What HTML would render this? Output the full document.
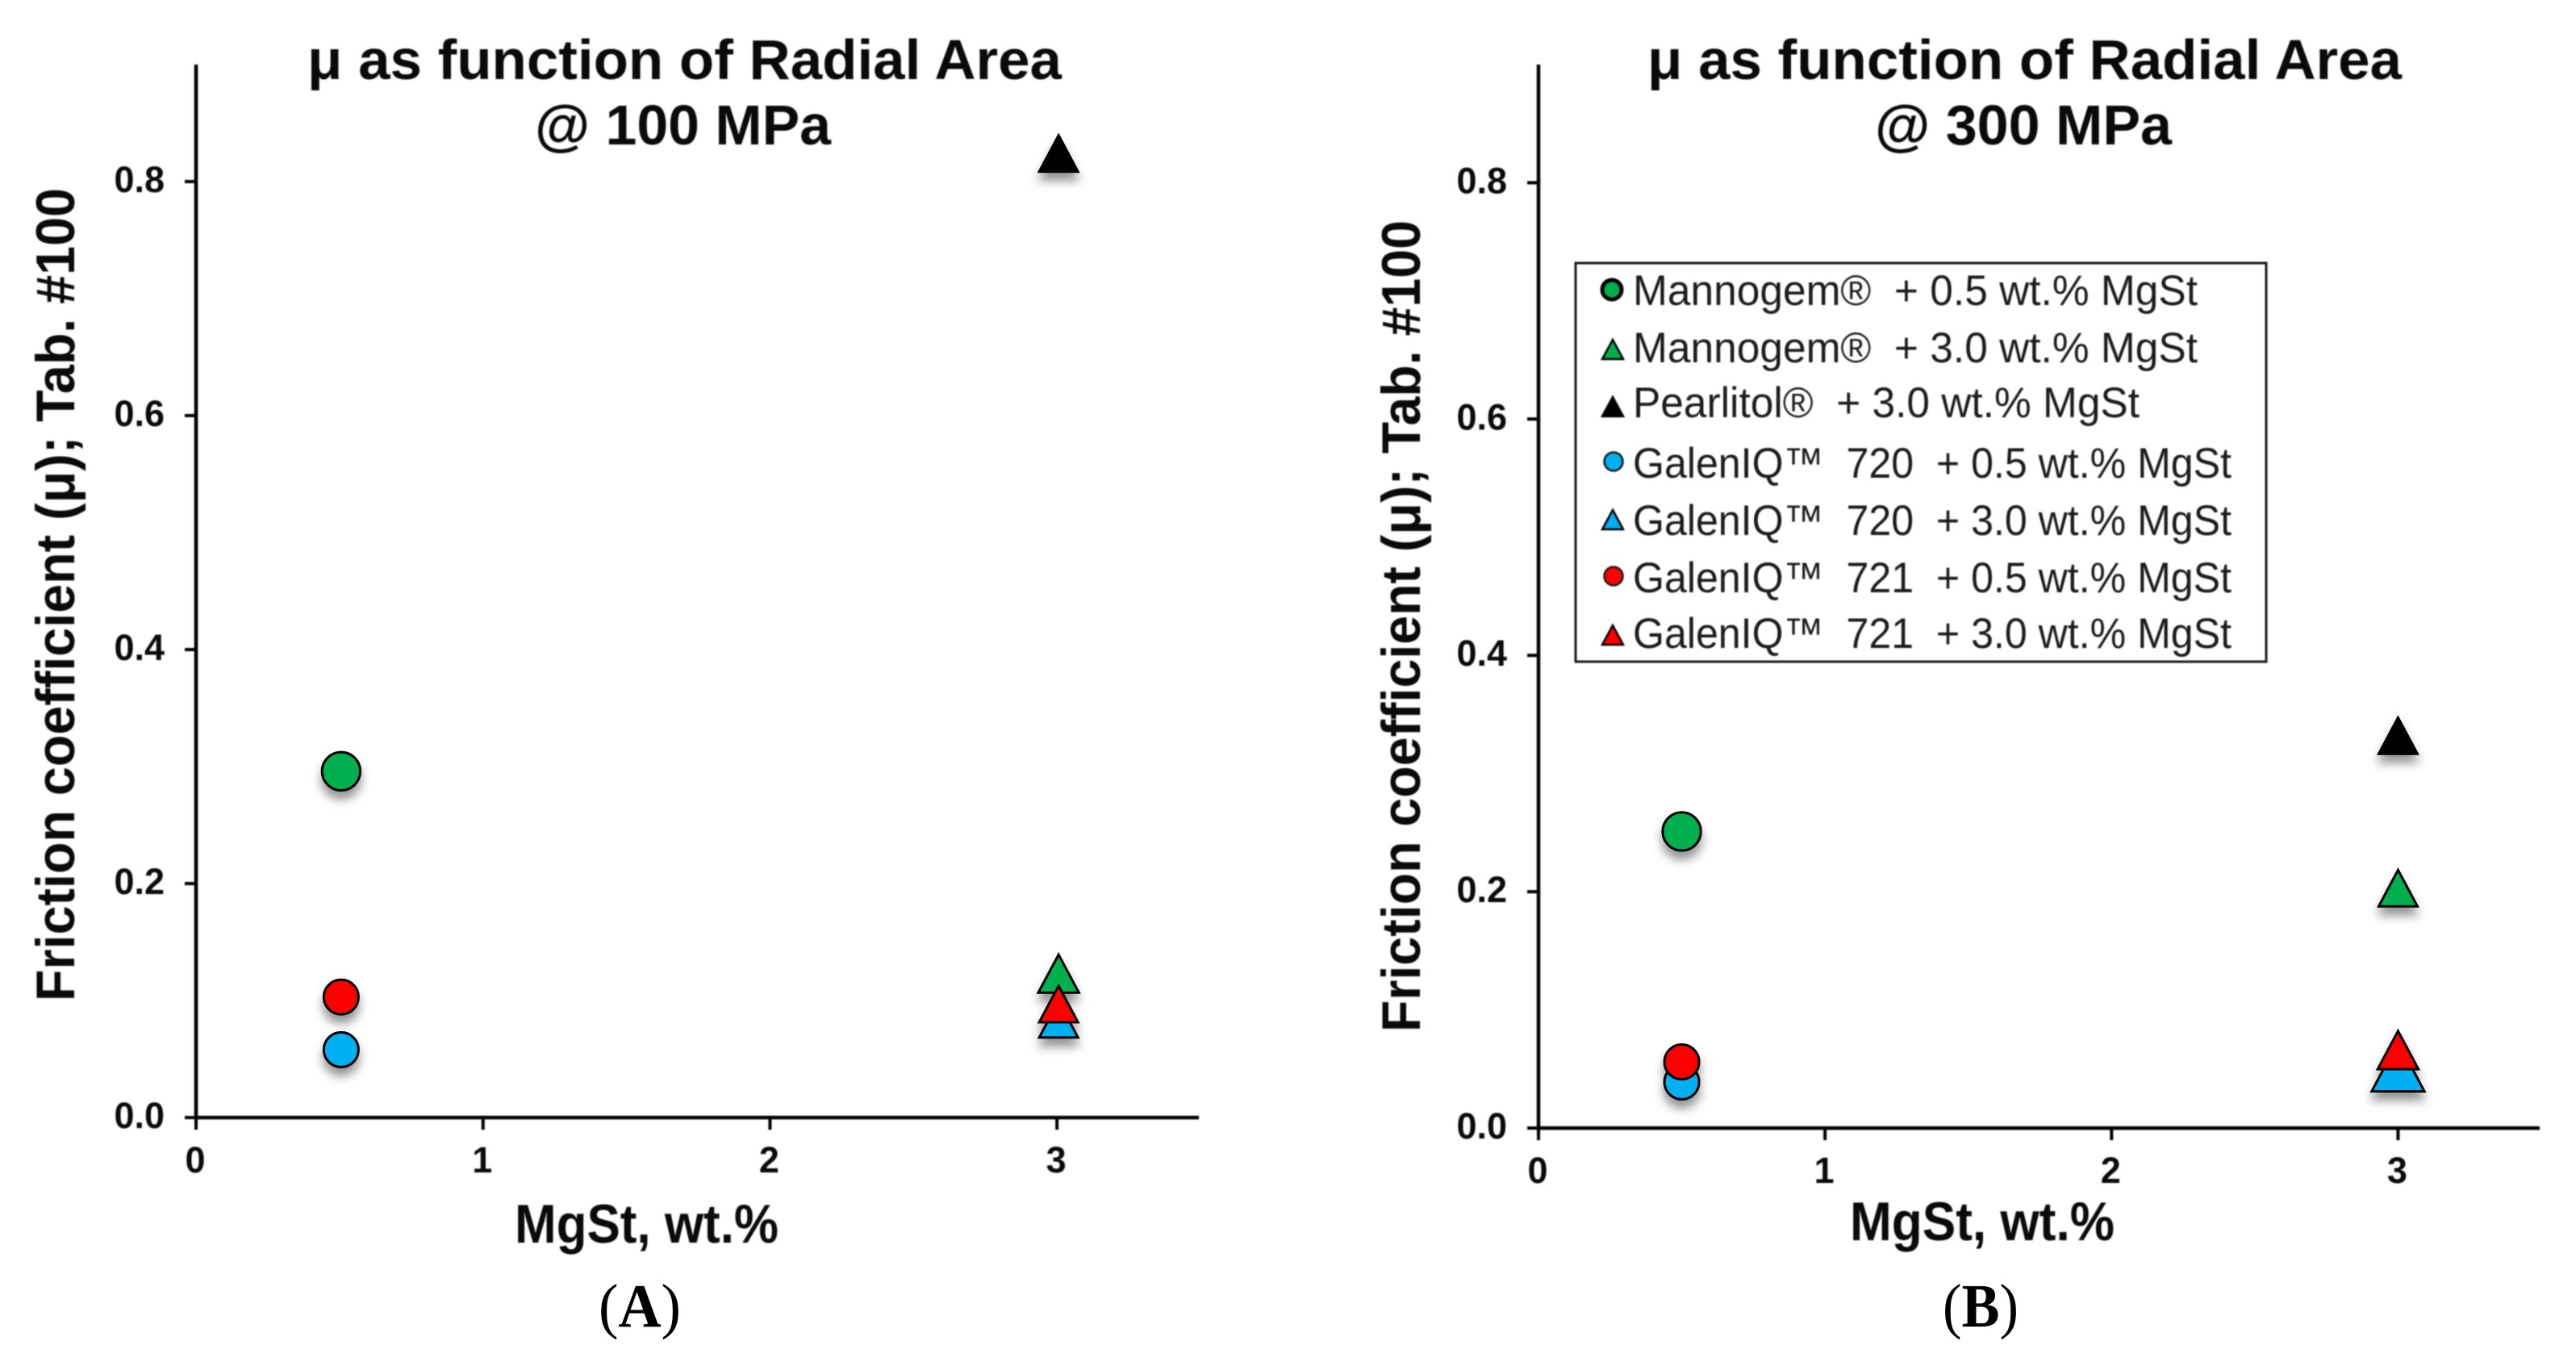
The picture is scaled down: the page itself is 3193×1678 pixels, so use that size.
<!DOCTYPE html>
<html lang="en">
<head>
<meta charset="utf-8">
<title>Friction coefficient as function of radial area</title>
<style>
  html, body { margin: 0; padding: 0; background: #fff; }
  svg { display: block; }
  .sans { font-family: "Liberation Sans", sans-serif; }
  .bold { font-family: "Liberation Sans", sans-serif; font-weight: 700; fill: #0a0a0a; }
  .soft { filter: blur(0.9px); }
  .legend-text { font-family: "Liberation Sans", sans-serif; font-size: 53px; fill: #1c1c1c; white-space: pre; }
  .caption { font-family: "Liberation Serif", serif; font-size: 76px; fill: #000; }
</style>
</head>
<body>
<svg id="figure" xmlns="http://www.w3.org/2000/svg" width="3193" height="1678" viewBox="0 0 3193 1678">
  <defs>
    <filter id="mark-shadow" x="-30%" y="-30%" width="160%" height="170%">
      <feDropShadow dx="0" dy="10" stdDeviation="6" flood-color="#000" flood-opacity="0.42"/>
    </filter>
  </defs>
  <rect width="3193" height="1678" fill="#fff"/>

  <g class="soft">
    <text class="bold" x="381" y="98" font-size="70" textLength="935" lengthAdjust="spacingAndGlyphs">μ as function of Radial Area</text>
    <text class="bold" x="663" y="179" font-size="70" textLength="367" lengthAdjust="spacingAndGlyphs">@ 100 MPa</text>
    <text class="bold" x="92" y="1241" font-size="68" transform="rotate(-90 92 1241)" textLength="1008" lengthAdjust="spacingAndGlyphs">Friction coefficient (μ); Tab. #100</text>
    <text class="bold" x="638" y="1540" font-size="68" textLength="327" lengthAdjust="spacingAndGlyphs">MgSt, wt.%</text>
  </g>

  <g class="soft">
    <text class="bold" x="2042" y="98" font-size="70" textLength="935" lengthAdjust="spacingAndGlyphs">μ as function of Radial Area</text>
    <text class="bold" x="2324" y="179" font-size="70" textLength="368" lengthAdjust="spacingAndGlyphs">@ 300 MPa</text>
    <text class="bold" x="1760" y="1279" font-size="68" transform="rotate(-90 1760 1279)" textLength="1006" lengthAdjust="spacingAndGlyphs">Friction coefficient (μ); Tab. #100</text>
    <text class="bold" x="2293" y="1537" font-size="68" textLength="328" lengthAdjust="spacingAndGlyphs">MgSt, wt.%</text>
  </g>

  <text class="caption" x="742" y="1644" textLength="102" lengthAdjust="spacingAndGlyphs">(<tspan font-weight="700">A</tspan>)</text>
  <text class="caption" x="2408" y="1644" textLength="94" lengthAdjust="spacingAndGlyphs">(<tspan font-weight="700">B</tspan>)</text>

  <g id="panel-a"></g>
  <g id="panel-b"></g>

  <g class="soft">
    <rect x="1953" y="326" width="856" height="494" fill="#fff" stroke="#1a1a1a" stroke-width="3"/>

    <g>
      <circle cx="1998" cy="359" r="12" fill="#00b050" stroke="#000" stroke-width="5"/>
      <text class="legend-text" x="2024" y="378" textLength="700" lengthAdjust="spacingAndGlyphs">Mannogem®  + 0.5 wt.% MgSt</text>
    </g>
    <g>
      <polygon points="1999,421 2012,445 1986,445" fill="#00b050" stroke="#000" stroke-width="2.5"/>
      <text class="legend-text" x="2024" y="449" textLength="700" lengthAdjust="spacingAndGlyphs">Mannogem®  + 3.0 wt.% MgSt</text>
    </g>
    <g>
      <polygon points="1999,492 2012,516 1986,516" fill="#000" stroke="#000" stroke-width="2.5"/>
      <text class="legend-text" x="2024" y="517" textLength="628" lengthAdjust="spacingAndGlyphs">Pearlitol®  + 3.0 wt.% MgSt</text>
    </g>
    <g>
      <circle cx="2000" cy="572" r="11.5" fill="#00b0f0" stroke="#1a1a1a" stroke-width="2.5"/>
      <text class="legend-text" x="2024" y="592" textLength="742" lengthAdjust="spacingAndGlyphs">GalenIQ™  720  + 0.5 wt.% MgSt</text>
    </g>
    <g>
      <polygon points="1999,632 2012,656 1986,656" fill="#00b0f0" stroke="#000" stroke-width="2.5"/>
      <text class="legend-text" x="2024" y="663" textLength="742" lengthAdjust="spacingAndGlyphs">GalenIQ™  720  + 3.0 wt.% MgSt</text>
    </g>
    <g>
      <circle cx="2000" cy="714" r="11.5" fill="#ff0000" stroke="#1a1a1a" stroke-width="2.5"/>
      <text class="legend-text" x="2024" y="734" textLength="742" lengthAdjust="spacingAndGlyphs">GalenIQ™  721  + 0.5 wt.% MgSt</text>
    </g>
    <g>
      <polygon points="1999,775 2012,799 1986,799" fill="#ff0000" stroke="#000" stroke-width="2.5"/>
      <text class="legend-text" x="2024" y="803" textLength="742" lengthAdjust="spacingAndGlyphs">GalenIQ™  721  + 3.0 wt.% MgSt</text>
    </g>
  </g>
</svg>

<script>
// Chart data
const seriesNames = ['mannogem-0-5', 'mannogem-3-0', 'pearlitol-3-0', 'galeniq-720-0-5', 'galeniq-720-3-0', 'galeniq-721-0-5', 'galeniq-721-3-0'];
const seriesMgst = [0.5, 3, 3, 0.5, 3, 0.5, 3];
const frictionAt100MPa = [0.296, 0.123, 0.824, 0.058, 0.084, 0.103, 0.097];
const frictionAt300MPa = [0.251, 0.203, 0.332, 0.039, 0.052, 0.056, 0.066];
const xTickValues = [0, 1, 2, 3];
const xTickLabels = ['0', '1', '2', '3'];
const yTickValues = [0, 0.2, 0.4, 0.6, 0.8];
const yTickLabels = ['0.0', '0.2', '0.4', '0.6', '0.8'];
const xDomainMax = 3.5;
const yDomainMax = 0.9;

// Styling (separate from the data)
const seriesShape = ['circle', 'triangle', 'triangle', 'circle', 'triangle', 'circle', 'triangle'];
const seriesFill = ['#00b050', '#00b050', '#000000', '#00b0f0', '#00b0f0', '#ff0000', '#ff0000'];

const SVG_NS = 'http://www.w3.org/2000/svg';

function makeSvg(tag) {
  return document.createElementNS(SVG_NS, tag);
}

function drawPanel(groupId, prefix, box, values, markerScale) {
  const root = document.getElementById(groupId);
  const xScale = function (v) { return box.left + (v / xDomainMax) * (box.right - box.left); };
  const yScale = function (v) { return box.bottom - (v / yDomainMax) * (box.bottom - box.top); };

  const axes = makeSvg('g');
  axes.setAttribute('class', 'soft');
  
  
  root.appendChild(axes);

  const yAxis = makeSvg('line');
  yAxis.setAttribute('x1', box.left);
  yAxis.setAttribute('x2', box.left);
  yAxis.setAttribute('y1', box.top);
  yAxis.setAttribute('y2', box.bottom + 2);
  yAxis.setAttribute('stroke', '#000');
  yAxis.setAttribute('stroke-width', '4.5');
  
  
  axes.appendChild(yAxis);

  const xAxis = makeSvg('line');
  xAxis.setAttribute('x1', box.left - 2);
  xAxis.setAttribute('x2', box.right - 2);
  xAxis.setAttribute('y1', box.bottom);
  xAxis.setAttribute('y2', box.bottom);
  xAxis.setAttribute('stroke', '#000');
  xAxis.setAttribute('stroke-width', '4.5');
  
  
  axes.appendChild(xAxis);

  yTickValues.forEach(function (v, i) {
    const tick = makeSvg('line');
    tick.setAttribute('x1', box.left - 14);
    tick.setAttribute('x2', box.left);
    tick.setAttribute('y1', yScale(v));
    tick.setAttribute('y2', yScale(v));
    tick.setAttribute('stroke', '#000');
    tick.setAttribute('stroke-width', '4');
    
    
    axes.appendChild(tick);

    const label = makeSvg('text');
    label.setAttribute('x', box.left - 39);
    label.setAttribute('y', yScale(v) + box.yLabelDrop);
    label.setAttribute('text-anchor', 'end');
    label.setAttribute('class', 'bold');
    label.setAttribute('font-size', '45');
    
    
    label.textContent = yTickLabels[i];
    axes.appendChild(label);
  });

  xTickValues.forEach(function (v, i) {
    const tick = makeSvg('line');
    tick.setAttribute('x1', xScale(v));
    tick.setAttribute('x2', xScale(v));
    tick.setAttribute('y1', box.bottom);
    tick.setAttribute('y2', box.bottom + 15);
    tick.setAttribute('stroke', '#000');
    tick.setAttribute('stroke-width', '4');
    
    
    axes.appendChild(tick);

    const label = makeSvg('text');
    label.setAttribute('x', xScale(v) - 1);
    label.setAttribute('y', box.bottom + 68);
    label.setAttribute('text-anchor', 'middle');
    label.setAttribute('class', 'bold');
    label.setAttribute('font-size', '45');
    
    
    label.textContent = xTickLabels[i];
    axes.appendChild(label);
  });

  // The shadow is applied to the whole group so it only falls behind the cluster,
  // never onto a neighbouring marker.
  const marks = makeSvg('g');
  marks.setAttribute('filter', 'url(#mark-shadow)');
  
  
  root.appendChild(marks);

  values.forEach(function (v, i) {
    const cx = xScale(seriesMgst[i]) + box.pointDx;
    const cy = yScale(v);
    const scale = markerScale[i];
    let mark;
    if (seriesShape[i] === 'circle') {
      mark = makeSvg('circle');
      mark.setAttribute('cx', cx);
      mark.setAttribute('cy', cy);
      mark.setAttribute('r', 21.5 * scale);
    } else {
      mark = makeSvg('polygon');
      const halfW = 24 * scale;
      const halfH = 22.5 * scale;
      mark.setAttribute('points',
        cx + ',' + (cy - halfH) + ' ' +
        (cx + halfW) + ',' + (cy + halfH) + ' ' +
        (cx - halfW) + ',' + (cy + halfH));
    }
    mark.setAttribute('fill', seriesFill[i]);
    mark.setAttribute('stroke', '#000');
    mark.setAttribute('stroke-width', '3');
    mark.setAttribute('stroke-linejoin', 'miter');
    
    
    marks.appendChild(mark);
  });
}

drawPanel('panel-a', 'panel-a',
  { left: 243, right: 1488, top: 80, bottom: 1385, yLabelDrop: 13, pointDx: 2 },
  frictionAt100MPa,
  [1.1, 1.05, 1, 1, 1, 1, 1]);

drawPanel('panel-b', 'panel-b',
  { left: 1907, right: 3150, top: 80, bottom: 1398, yLabelDrop: 13, pointDx: 0 },
  frictionAt300MPa,
  [1.1, 1, 1, 1, 1.36, 1, 1.05]);
</script>
</body>
</html>
